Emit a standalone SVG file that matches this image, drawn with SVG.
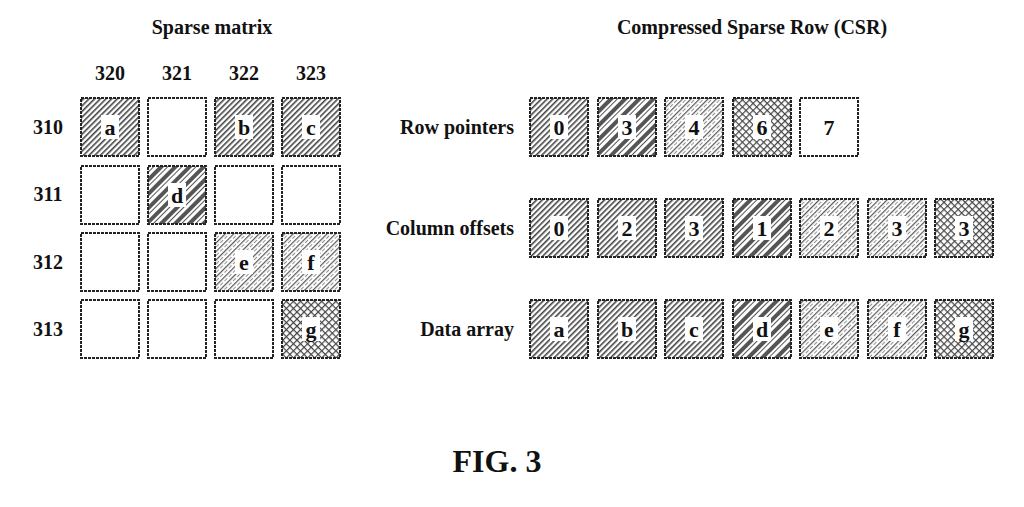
<svg xmlns="http://www.w3.org/2000/svg" width="1024" height="507" viewBox="0 0 1024 507">
<defs>
<pattern id="pA" width="4" height="4" patternUnits="userSpaceOnUse" patternTransform="rotate(45)"><rect width="4" height="4" fill="#fff"/><rect width="1.6" height="4" fill="#444"/></pattern>
<pattern id="pD" width="10" height="10" patternUnits="userSpaceOnUse" patternTransform="rotate(45)"><rect width="10" height="10" fill="#fff"/><rect width="4" height="10" fill="#555"/><rect x="6" width="1" height="10" fill="#555"/></pattern>
<pattern id="pE" width="6" height="6" patternUnits="userSpaceOnUse" patternTransform="rotate(45)"><rect width="6" height="6" fill="#fff"/><rect width="1.2" height="6" fill="#555"/><rect x="3" width="0.8" height="4" fill="#777"/></pattern>
<pattern id="pG" width="5" height="5" patternUnits="userSpaceOnUse" patternTransform="rotate(45)"><rect width="5" height="5" fill="#fff"/><rect width="1.2" height="5" fill="#444"/><rect width="5" height="1.2" fill="#444"/></pattern>
</defs>
<style>
text{font-family:"Liberation Serif",serif;font-weight:bold;fill:#111}
.t{font-size:20px}
.c{font-size:22px;text-anchor:middle}
.cell{stroke:#222;stroke-width:2;stroke-dasharray:3 1}
.lb{fill:#fff}
</style>
<rect width="1024" height="507" fill="#fff"/>
<text class="t" x="212" y="34" text-anchor="middle">Sparse matrix</text>
<text class="t" x="752" y="34" text-anchor="middle">Compressed Sparse Row (CSR)</text>
<g class="t" text-anchor="middle"><text x="110" y="80">320</text><text x="177" y="80">321</text><text x="244" y="80">322</text><text x="311" y="80">323</text>
<text x="48" y="134">310</text><text x="48" y="201">311</text><text x="48" y="269">312</text><text x="48" y="336">313</text></g>
<g class="t" text-anchor="end"><text x="514" y="134">Row pointers</text><text x="514" y="235">Column offsets</text><text x="514" y="336">Data array</text></g>
<g id="matrix">
<rect class="cell" x="81" y="98" width="58" height="58" fill="url(#pA)"/><rect class="lb" x="101" y="115" width="18" height="24"/><text class="c" x="110" y="135">a</text>
<rect class="cell" x="148" y="98" width="58" height="58" fill="#fff"/>
<rect class="cell" x="215" y="98" width="58" height="58" fill="url(#pA)"/><rect class="lb" x="235" y="115" width="18" height="24"/><text class="c" x="244" y="135">b</text>
<rect class="cell" x="282" y="98" width="58" height="58" fill="url(#pA)"/><rect class="lb" x="302" y="115" width="18" height="24"/><text class="c" x="311" y="135">c</text>
<rect class="cell" x="81" y="166" width="58" height="58" fill="#fff"/>
<rect class="cell" x="148" y="166" width="58" height="58" fill="url(#pD)"/><rect class="lb" x="168" y="183" width="18" height="24"/><text class="c" x="177" y="203">d</text>
<rect class="cell" x="215" y="166" width="58" height="58" fill="#fff"/>
<rect class="cell" x="282" y="166" width="58" height="58" fill="#fff"/>
<rect class="cell" x="81" y="233" width="58" height="58" fill="#fff"/>
<rect class="cell" x="148" y="233" width="58" height="58" fill="#fff"/>
<rect class="cell" x="215" y="233" width="58" height="58" fill="url(#pE)"/><rect class="lb" x="235" y="250" width="18" height="24"/><text class="c" x="244" y="270">e</text>
<rect class="cell" x="282" y="233" width="58" height="58" fill="url(#pE)"/><rect class="lb" x="302" y="250" width="18" height="24"/><text class="c" x="311" y="270">f</text>
<rect class="cell" x="81" y="300" width="58" height="58" fill="#fff"/>
<rect class="cell" x="148" y="300" width="58" height="58" fill="#fff"/>
<rect class="cell" x="215" y="300" width="58" height="58" fill="#fff"/>
<rect class="cell" x="282" y="300" width="58" height="58" fill="url(#pG)"/><rect class="lb" x="302" y="317" width="18" height="24"/><text class="c" x="311" y="337">g</text>
</g>
<g id="rowptr">
<rect class="cell" x="530" y="98" width="58" height="58" fill="url(#pA)"/><rect class="lb" x="550" y="115" width="18" height="24"/><text class="c" x="559" y="135">0</text>
<rect class="cell" x="598" y="98" width="58" height="58" fill="url(#pD)"/><rect class="lb" x="618" y="115" width="18" height="24"/><text class="c" x="627" y="135">3</text>
<rect class="cell" x="665" y="98" width="58" height="58" fill="url(#pE)"/><rect class="lb" x="685" y="115" width="18" height="24"/><text class="c" x="694" y="135">4</text>
<rect class="cell" x="733" y="98" width="58" height="58" fill="url(#pG)"/><rect class="lb" x="753" y="115" width="18" height="24"/><text class="c" x="762" y="135">6</text>
<rect class="cell" x="800" y="98" width="58" height="58" fill="#fff"/><text class="c" x="829" y="135">7</text>
</g>
<g id="coloff">
<rect class="cell" x="530" y="199" width="58" height="58" fill="url(#pA)"/><rect class="lb" x="550" y="216" width="18" height="24"/><text class="c" x="559" y="236">0</text>
<rect class="cell" x="598" y="199" width="58" height="58" fill="url(#pA)"/><rect class="lb" x="618" y="216" width="18" height="24"/><text class="c" x="627" y="236">2</text>
<rect class="cell" x="665" y="199" width="58" height="58" fill="url(#pA)"/><rect class="lb" x="685" y="216" width="18" height="24"/><text class="c" x="694" y="236">3</text>
<rect class="cell" x="733" y="199" width="58" height="58" fill="url(#pD)"/><rect class="lb" x="753" y="216" width="18" height="24"/><text class="c" x="762" y="236">1</text>
<rect class="cell" x="800" y="199" width="58" height="58" fill="url(#pE)"/><rect class="lb" x="820" y="216" width="18" height="24"/><text class="c" x="829" y="236">2</text>
<rect class="cell" x="868" y="199" width="58" height="58" fill="url(#pE)"/><rect class="lb" x="888" y="216" width="18" height="24"/><text class="c" x="897" y="236">3</text>
<rect class="cell" x="935" y="199" width="58" height="58" fill="url(#pG)"/><rect class="lb" x="955" y="216" width="18" height="24"/><text class="c" x="964" y="236">3</text>
</g>
<g id="data">
<rect class="cell" x="530" y="300" width="58" height="58" fill="url(#pA)"/><rect class="lb" x="550" y="317" width="18" height="24"/><text class="c" x="559" y="337">a</text>
<rect class="cell" x="598" y="300" width="58" height="58" fill="url(#pA)"/><rect class="lb" x="618" y="317" width="18" height="24"/><text class="c" x="627" y="337">b</text>
<rect class="cell" x="665" y="300" width="58" height="58" fill="url(#pA)"/><rect class="lb" x="685" y="317" width="18" height="24"/><text class="c" x="694" y="337">c</text>
<rect class="cell" x="733" y="300" width="58" height="58" fill="url(#pD)"/><rect class="lb" x="753" y="317" width="18" height="24"/><text class="c" x="762" y="337">d</text>
<rect class="cell" x="800" y="300" width="58" height="58" fill="url(#pE)"/><rect class="lb" x="820" y="317" width="18" height="24"/><text class="c" x="829" y="337">e</text>
<rect class="cell" x="868" y="300" width="58" height="58" fill="url(#pE)"/><rect class="lb" x="888" y="317" width="18" height="24"/><text class="c" x="897" y="337">f</text>
<rect class="cell" x="935" y="300" width="58" height="58" fill="url(#pG)"/><rect class="lb" x="955" y="317" width="18" height="24"/><text class="c" x="964" y="337">g</text>
</g>
<g id="connectors"/>
<text x="497" y="472" text-anchor="middle" style="font-size:32px">FIG. 3</text>
</svg>
